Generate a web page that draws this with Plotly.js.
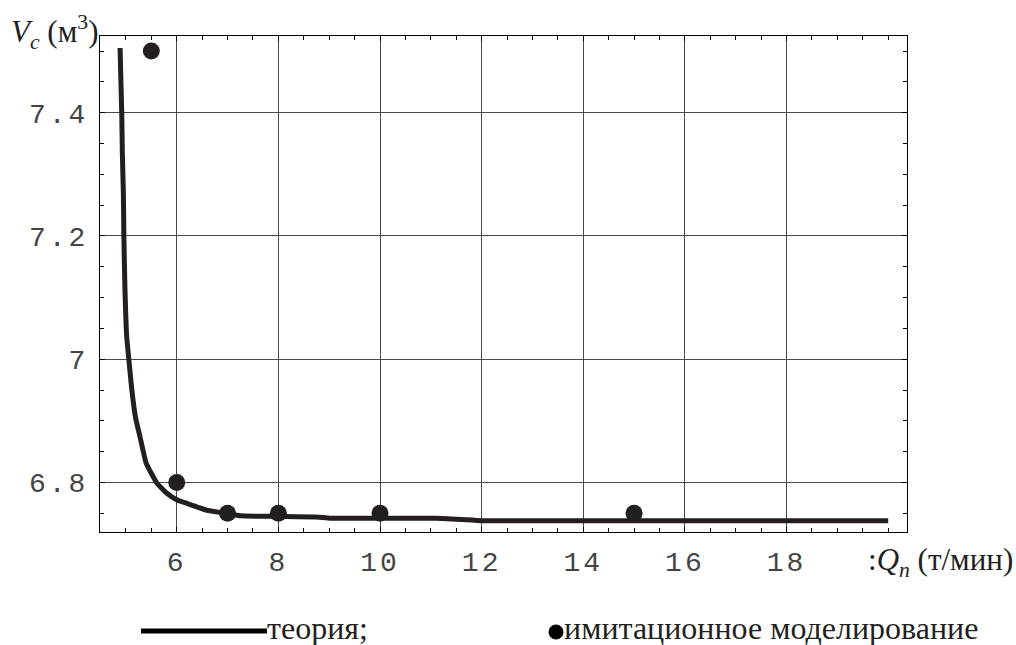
<!DOCTYPE html>
<html>
<head>
<meta charset="utf-8">
<script src="https://cdn.plot.ly/plotly-3.0.1.min.js"></script>
<style>
  html, body { margin: 0; padding: 0; background: #fff; }
  #chart { width: 1016px; height: 645px; }
  .xtick text, .ytick text { letter-spacing: 3px; }
</style>
</head>
<body>
<div id="chart"></div>
<script>
// Theory curve (Q_n, V_c)
const theoryQ = [4.885, 4.918, 4.93, 4.95, 4.96, 4.98, 5.016, 5.06, 5.11, 5.19, 5.28, 5.40, 5.61, 5.80, 6.0, 6.20, 6.59, 6.98, 7.25, 7.97, 8.75, 9.02, 10.0, 11.1, 11.6, 12.0, 14.0, 16.0, 18.0, 20.0];
const theoryV = [7.505, 7.399, 7.334, 7.269, 7.2, 7.117, 7.036, 6.998, 6.955, 6.905, 6.873, 6.831, 6.799, 6.783, 6.772, 6.766, 6.755, 6.750, 6.746, 6.745, 6.744, 6.742, 6.742, 6.742, 6.740, 6.738, 6.738, 6.738, 6.738, 6.738];
// Simulation points
const simQ = [5.5, 6, 7, 8, 10, 15];
const simV = [7.5, 6.8, 6.75, 6.75, 6.75, 6.75];
// Tick labels
const xTickVals = [6, 8, 10, 12, 14, 16, 18];
const xTickText = ['6', '8', '10', '12', '14', '16', '18'];
const yTickVals = [6.8, 7.0, 7.2, 7.4];
const yTickText = ['6.8', '7', '7.2', '7.4'];
// Texts
const legendTheory = 'теория;';
const legendSim = 'имитационное моделирование';
const yTitle = '<i>V<sub>c</sub></i> (м<sup>3</sup>)';
const xTitle = ':<i>Q<sub>n</sub></i> (т/мин)';

const ink = '#231f20';
const serif = 'Liberation Serif, Times New Roman, serif';
const mono = 'Liberation Mono, Courier New, monospace';

const traces = [
  { x: theoryQ, y: theoryV, type: 'scatter', mode: 'lines', name: legendTheory,
    line: { color: ink, width: 5, shape: 'spline', smoothing: 0.4 }, showlegend: false, hoverinfo: 'skip' },
  { x: simQ, y: simV, type: 'scatter', mode: 'markers', name: legendSim,
    marker: { color: ink, size: 17, line: { width: 0 } }, showlegend: false, hoverinfo: 'skip' }
];

// plot area: left 100, right 907, top 36, bottom 532
const L = 100, R = 907, T = 36, B = 532, W = R - L, H = B - T;
const px = v => (v - L) / W;
const py = v => (B - v) / H;

const layout = {
  width: 1016, height: 645,
  margin: { l: L, r: 1016 - R, t: T, b: 645 - B },
  paper_bgcolor: '#fff', plot_bgcolor: '#fff',
  showlegend: false,
  xaxis: {
    range: [4.49, 20.37], tickmode: 'array', tickvals: xTickVals, ticktext: xTickText,
    showgrid: true, gridcolor: '#4a4a4a', gridwidth: 1, zeroline: false,
    showline: true, linecolor: '#000', linewidth: 1, mirror: 'ticks',
    ticks: 'inside', ticklen: 5, tickcolor: '#000',
    tickfont: { family: mono, size: 28, color: '#444' }, ticklabelstandoff: 4,
    minor: { tickmode: 'linear', tick0: 0, dtick: 0.5, ticks: 'inside', ticklen: 4, tickcolor: '#000', showgrid: false }
  },
  yaxis: {
    range: [6.7197, 7.5245], tickmode: 'array', tickvals: yTickVals, ticktext: yTickText,
    showgrid: true, gridcolor: '#4a4a4a', gridwidth: 1, zeroline: false,
    showline: true, linecolor: '#000', linewidth: 1, mirror: 'ticks',
    ticks: 'inside', ticklen: 5, tickcolor: '#000',
    tickfont: { family: mono, size: 28, color: '#444' }, ticklabelstandoff: 5,
    minor: { tickmode: 'linear', tick0: 0, dtick: 0.05, ticks: 'inside', ticklen: 4, tickcolor: '#000', showgrid: false }
  },
  annotations: [
    { text: yTitle, xref: 'paper', yref: 'paper', x: px(100), y: py(32), xanchor: 'right', yanchor: 'middle',
      showarrow: false, font: { family: serif, size: 31, color: ink } },
    { text: xTitle, xref: 'paper', yref: 'paper', x: px(866), y: py(562), xanchor: 'left', yanchor: 'middle',
      showarrow: false, font: { family: serif, size: 31, color: ink } },
    { text: legendTheory, xref: 'paper', yref: 'paper', x: px(265), y: py(628), xanchor: 'left', yanchor: 'middle',
      showarrow: false, font: { family: serif, size: 32, color: ink } },
    { text: legendSim, xref: 'paper', yref: 'paper', x: px(562), y: py(628), xanchor: 'left', yanchor: 'middle',
      showarrow: false, font: { family: serif, size: 32, color: ink } }
  ],
  shapes: [
    { type: 'line', xref: 'paper', yref: 'paper', x0: px(141), x1: px(267), y0: py(631), y1: py(631),
      line: { color: '#000', width: 5 } },
    { type: 'circle', xref: 'paper', yref: 'paper', xsizemode: 'pixel', ysizemode: 'pixel',
      xanchor: px(556), yanchor: py(632), x0: -7.5, x1: 7.5, y0: -7.5, y1: 7.5,
      fillcolor: '#000', line: { color: '#000', width: 0 } }
  ]
};

Plotly.newPlot('chart', traces, layout, { staticPlot: true, displayModeBar: false });
</script>
</body>
</html>
